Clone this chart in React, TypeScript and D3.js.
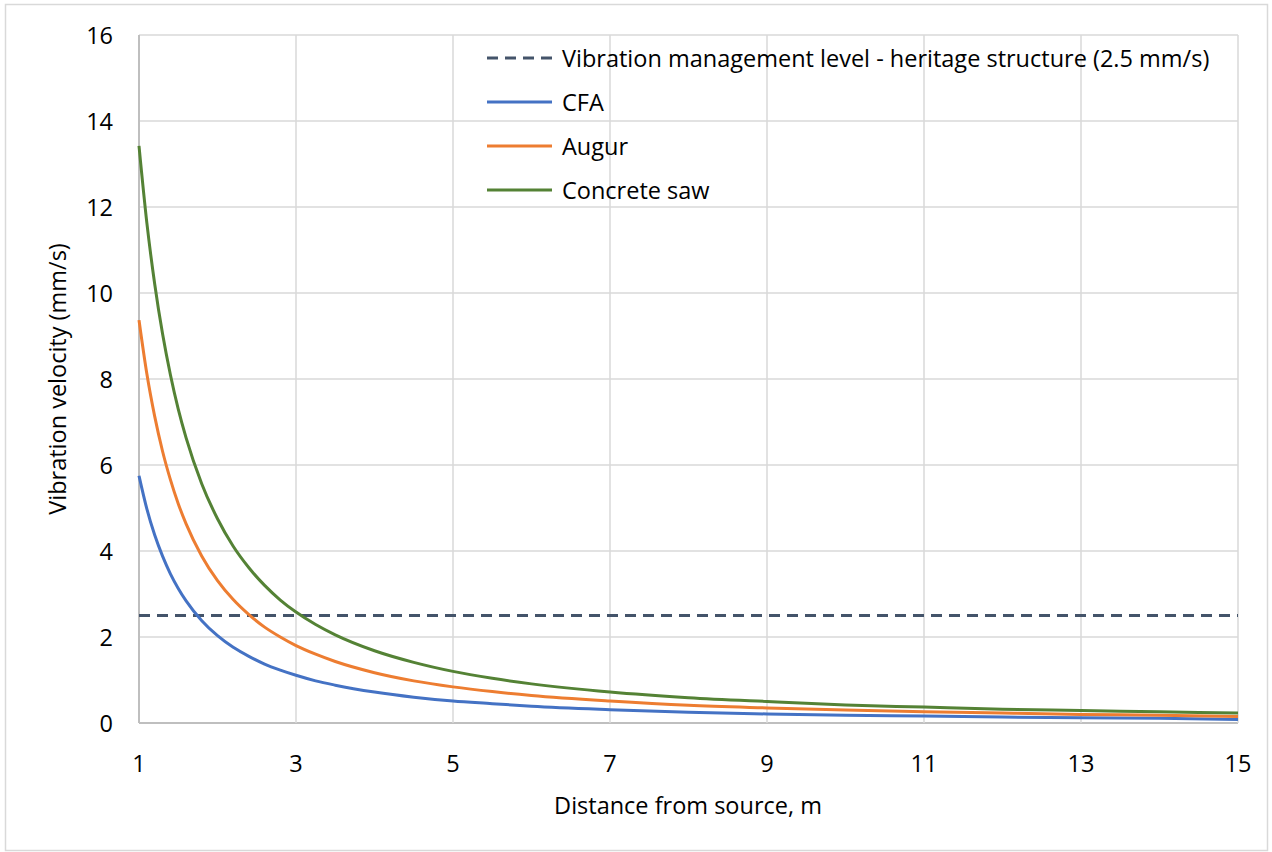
import { useEffect, useRef } from 'react';
import * as d3 from 'd3';

// distance from source (m)
const DIST = [1, 1.1, 1.2, 1.3, 1.4, 1.5, 1.6, 1.8, 2, 2.2, 2.4, 2.6, 2.8, 3, 3.25, 3.5, 4, 4.5, 5, 5.5, 6, 7, 8, 9, 10, 11, 12, 13, 14, 15];

// vibration velocity (mm/s)
const CFA = [5.75, 4.98, 4.37, 3.88, 3.47, 3.13, 2.84, 2.38, 2.03, 1.76, 1.55, 1.37, 1.23, 1.11, 0.98, 0.88, 0.72, 0.6, 0.51, 0.45, 0.39, 0.31, 0.25, 0.21, 0.18, 0.16, 0.14, 0.12, 0.11, 0.08];
const AUGUR = [9.37, 8.12, 7.13, 6.32, 5.66, 5.1, 4.63, 3.88, 3.31, 2.87, 2.52, 2.23, 2.0, 1.8, 1.6, 1.43, 1.17, 0.98, 0.84, 0.73, 0.64, 0.51, 0.41, 0.35, 0.3, 0.26, 0.23, 0.2, 0.18, 0.15];
const SAW = [13.42, 11.63, 10.21, 9.05, 8.1, 7.3, 6.63, 5.56, 4.75, 4.11, 3.61, 3.2, 2.86, 2.58, 2.29, 2.05, 1.68, 1.41, 1.2, 1.04, 0.91, 0.72, 0.59, 0.5, 0.42, 0.37, 0.32, 0.29, 0.26, 0.23];

const LIMIT = 2.5;
const X_TICKS = [1, 3, 5, 7, 9, 11, 13, 15];
const Y_TICKS = [0, 2, 4, 6, 8, 10, 12, 14, 16];

const SERIES = [
  { name: 'CFA', values: CFA, color: '#4472c4' },
  { name: 'Augur', values: AUGUR, color: '#ed7d31' },
  { name: 'Concrete saw', values: SAW, color: '#548235' },
];

const W = 1272;
const H = 852;
const FONT = '"Open Sans", sans-serif';
const FS = 23.5;

export default function App() {
  const svgRef = useRef<SVGSVGElement>(null);

  useEffect(() => {
    if (!svgRef.current) return;
    const svg = d3.select(svgRef.current);
    svg.selectAll('*').remove();

    const left = 139, right = 1238, top = 35, bottom = 723;
    const x = d3.scaleLinear().domain([1, 15]).range([left, right]);
    const y = d3.scaleLinear().domain([0, 16]).range([bottom, top]);

    svg.append('rect')
      .attr('x', 0).attr('y', 0).attr('width', W).attr('height', H)
      .attr('fill', '#fff');

    // outer frame
    svg.append('rect')
      .attr('x', 5.5).attr('y', 4.5).attr('width', W - 10).attr('height', H - 6)
      .attr('fill', 'none')
      .attr('stroke', '#d9d9d9')
      .attr('stroke-width', 1.5);

    // gridlines
    Y_TICKS.forEach((t) => {
      svg.append('line')
        .attr('x1', left).attr('x2', right)
        .attr('y1', y(t)).attr('y2', y(t))
        .attr('stroke', t === 0 ? '#bfbfbf' : '#d9d9d9')
        .attr('stroke-width', t === 0 ? 2 : 1.5);
    });
    X_TICKS.forEach((t) => {
      svg.append('line')
        .attr('x1', x(t)).attr('x2', x(t))
        .attr('y1', top).attr('y2', bottom)
        .attr('stroke', t === 1 ? '#bfbfbf' : '#d9d9d9')
        .attr('stroke-width', t === 1 ? 2 : 1.5);
    });

    // tick labels
    Y_TICKS.forEach((t) => {
      svg.append('text')
        .attr('x', 113).attr('y', y(t))
        .attr('text-anchor', 'end')
        .attr('dominant-baseline', 'central')
        .attr('font-family', FONT)
        .attr('font-size', FS)
        .attr('fill', '#000')
        .text(t);
    });
    X_TICKS.forEach((t) => {
      svg.append('text')
        .attr('x', x(t)).attr('y', 763)
        .attr('text-anchor', 'middle')
        .attr('dominant-baseline', 'central')
        .attr('font-family', FONT)
        .attr('font-size', FS)
        .attr('fill', '#000')
        .text(t);
    });

    // axis titles
    svg.append('text')
      .attr('x', 688).attr('y', 805)
      .attr('text-anchor', 'middle')
      .attr('dominant-baseline', 'central')
      .attr('font-family', FONT)
      .attr('font-size', FS)
      .text('Distance from source, m');

    svg.append('text')
      .attr('transform', `translate(57,${(top + bottom) / 2}) rotate(-90)`)
      .attr('text-anchor', 'middle')
      .attr('dominant-baseline', 'central')
      .attr('font-family', FONT)
      .attr('font-size', FS)
      .text('Vibration velocity (mm/s)');

    // management level
    svg.append('line')
      .attr('x1', left).attr('x2', right)
      .attr('y1', y(LIMIT)).attr('y2', y(LIMIT))
      .attr('stroke', '#44546a')
      .attr('stroke-width', 3)
      .attr('stroke-dasharray', '11,7');

    const line = d3.line<number>()
      .x((_, i) => x(DIST[i]))
      .y((d) => y(d))
      .curve(d3.curveMonotoneX);

    SERIES.forEach((s) => {
      svg.append('path')
        .datum(s.values)
        .attr('d', line)
        .attr('fill', 'none')
        .attr('stroke', s.color)
        .attr('stroke-width', 3)
        .attr('stroke-linejoin', 'round');
    });

    // legend
    const legend = [
      { name: 'Vibration management level - heritage structure (2.5 mm/s)', color: '#44546a', dash: '11,7' },
      ...SERIES.map((s) => ({ name: s.name, color: s.color, dash: null as string | null })),
    ];
    legend.forEach((l, i) => {
      const ly = 58 + i * 44;
      svg.append('line')
        .attr('x1', 487).attr('x2', 552)
        .attr('y1', ly).attr('y2', ly)
        .attr('stroke', l.color)
        .attr('stroke-width', 3)
        .attr('stroke-dasharray', l.dash);
      svg.append('text')
        .attr('x', 562).attr('y', ly)
        .attr('dominant-baseline', 'central')
        .attr('font-family', FONT)
        .attr('font-size', FS)
        .attr('fill', '#000')
        .text(l.name);
    });
  }, []);

  return (
    <div style={{ position: 'absolute', left: 0, top: 0 }}>
      <svg ref={svgRef} width={W} height={H} />
    </div>
  );
}
